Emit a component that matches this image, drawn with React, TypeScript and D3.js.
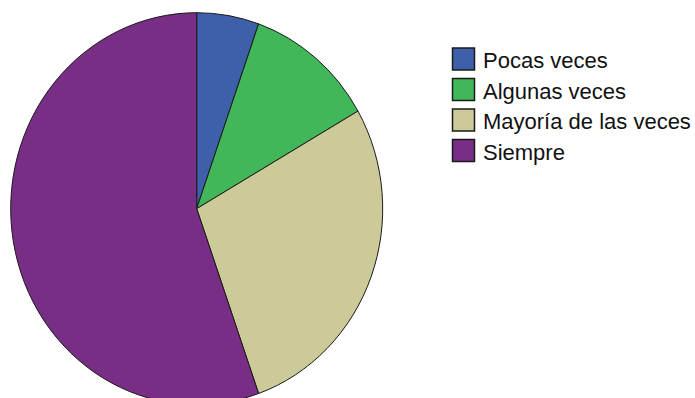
import React from "react";
import * as d3 from "d3";

const categories = ["Pocas veces", "Algunas veces", "Mayoría de las veces", "Siempre"];
const values = [5.4, 11.3, 27.9, 55.4];
const colors = ["#3d60a9", "#41b75a", "#cbca98", "#772e84"];

export default function App() {
  const width = 695;
  const height = 398;
  const cx = 196.7;
  const cy = 208.7;
  const rx = 186;
  const ry = 196;
  const pie = d3.pie<number>().sort(null).value((d) => d)(values);
  const arc = d3.arc<d3.PieArcDatum<number>>().innerRadius(0).outerRadius(rx);
  const legendY = d3.scaleBand<string>().domain(categories).range([47, 47 + 30.5 * 4]).paddingInner(0);

  return (
    <svg width={width} height={height} style={{ position: "absolute", left: 0, top: 0, background: "#fff" }}>
      <g transform={`translate(${cx},${cy}) scale(1,${ry / rx})`}>
        {pie.map((p, i) => (
          <path
            key={i}
            d={arc(p) || ""}
            fill={colors[i]}
            stroke="#1a1a1a"
            strokeWidth={1}
            vectorEffect="non-scaling-stroke"
          />
        ))}
      </g>
      {categories.map((c, i) => {
        const y = legendY(c)!;
        return (
          <g key={c}>
            <rect x={452.5} y={y + 1} width={22} height={22} fill={colors[i]} stroke="#1a1a1a" strokeWidth={1.5} />
            <text x={483} y={y + 21} fontFamily="Liberation Sans, Arial, sans-serif" fontSize={22} fill="#111">
              {c}
            </text>
          </g>
        );
      })}
    </svg>
  );
}
